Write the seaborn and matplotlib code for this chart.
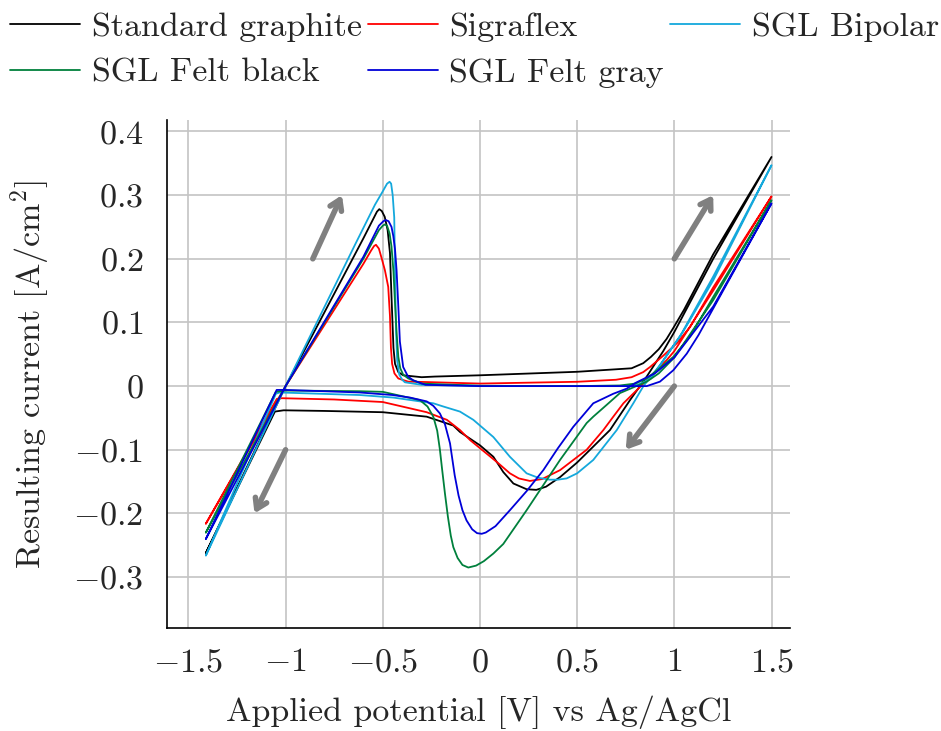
import matplotlib
matplotlib.use("Agg")
import matplotlib.pyplot as plt
import seaborn as sns
import pandas as pd

# ---------------- data (potential V vs Ag/AgCl, current A/cm^2) ----------------
std_v = [-1.41, -1.0, -0.75, -0.6, -0.55, -0.53, -0.518, -0.505, -0.49, -0.475, -0.463, -0.455, -0.445,
         -0.437, -0.42, -0.395, -0.3, -0.232, 0.0, 0.5, 0.78, 0.84, 0.88, 0.92, 0.96, 1.0, 1.05, 1.2, 1.5,
         1.2, 1.0, 0.943, 0.858, 0.772, 0.669, 0.583, 0.5, 0.412, 0.34, 0.29, 0.24, 0.172, 0.12,
         0.069, 0.0, -0.103, -0.137, -0.274, -0.5, -0.8, -1.01, -1.055, -1.41]
std_i = [-0.262, 0.0, 0.145, 0.232, 0.262, 0.274, 0.278, 0.275, 0.266, 0.245, 0.209, 0.14, 0.060,
         0.035, 0.022, 0.017, 0.014, 0.015, 0.017, 0.0225, 0.028, 0.036, 0.046, 0.058, 0.074, 0.094, 0.12,
         0.207, 0.360,
         0.200, 0.085, 0.055, 0.015, -0.022, -0.069, -0.095, -0.120, -0.143, -0.158, -0.163, -0.162,
         -0.153, -0.135, -0.111, -0.093, -0.072, -0.062, -0.048, -0.041, -0.039, -0.038, -0.040, -0.262]

sig_v = [-1.41, -1.0, -0.75, -0.6, -0.56, -0.545, -0.535, -0.52, -0.505, -0.489, -0.472, -0.463, -0.458,
         -0.452, -0.44, -0.42, -0.369, -0.29, 0.0, 0.5, 0.70, 0.78, 0.84, 0.875, 0.94, 1.012, 1.081, 1.2, 1.5,
         1.2, 1.0, 0.961, 0.858, 0.738, 0.686, 0.635, 0.549, 0.412, 0.32, 0.257, 0.2, 0.154, 0.09,
         0.034, -0.05, -0.103, -0.17, -0.274, -0.5, -0.75, -1.02, -1.045, -1.41]
sig_i = [-0.216, 0.0, 0.12, 0.192, 0.213, 0.220, 0.222, 0.216, 0.200, 0.182, 0.156, 0.110, 0.060,
         0.035, 0.020, 0.012, 0.007, 0.0065, 0.004, 0.0068, 0.010, 0.014, 0.022, 0.030, 0.047, 0.067, 0.093,
         0.155, 0.298,
         0.150, 0.055, 0.041, 0.009, -0.027, -0.048, -0.069, -0.100, -0.132, -0.146, -0.149, -0.145,
         -0.137, -0.120, -0.106, -0.085, -0.069, -0.053, -0.041, -0.025, -0.021, -0.019, -0.020, -0.216]

bip_v = [-1.41, -1.0, -0.643, -0.54, -0.50, -0.478, -0.465, -0.457, -0.449, -0.441, -0.437, -0.432,
         -0.426, -0.415, -0.400, -0.386, -0.30, 0.0, 0.5, 0.75, 0.82, 0.88, 0.943, 1.029, 1.2, 1.5,
         1.2, 1.046, 0.926, 0.841, 0.789, 0.704, 0.583, 0.5, 0.446, 0.40, 0.36, 0.3, 0.24, 0.154, 0.069,
         -0.034, -0.103, -0.189, -0.24, -0.446, -0.618, -1.03, -1.05, -1.41]
bip_i = [-0.266, 0.0, 0.222, 0.285, 0.306, 0.318, 0.321, 0.318, 0.300, 0.265, 0.182, 0.090,
         0.040, 0.018, 0.010, 0.006, 0.002, 0.0005, 0.0, 0.0, 0.003, 0.012, 0.040, 0.078, 0.172, 0.347,
         0.166, 0.086, 0.033, 0.0, -0.027, -0.069, -0.116, -0.137, -0.145, -0.147, -0.147, -0.144, -0.137,
         -0.111, -0.080, -0.053, -0.040, -0.032, -0.027, -0.018, -0.014, -0.010, -0.012, -0.266]

fblk_v = [-1.41, -1.0, -0.6, -0.52, -0.5, -0.489, -0.478, -0.465, -0.455, -0.445, -0.437, -0.428, -0.42,
          -0.41, -0.395, -0.369, -0.3, 0.0, 0.5, 0.72, 0.80, 0.858, 0.92, 0.995, 1.081, 1.2, 1.5,
          1.2, 1.0, 0.92, 0.858, 0.72, 0.65, 0.583, 0.549, 0.412, 0.24, 0.12, 0.069, 0.02, -0.02, -0.06,
          -0.09, -0.115, -0.137, -0.15, -0.165, -0.18, -0.195, -0.206, -0.22, -0.24, -0.27, -0.309, -0.5,
          -0.618, -1.0, -1.05, -1.41]
fblk_i = [-0.230, 0.0, 0.200, 0.245, 0.252, 0.254, 0.252, 0.240, 0.219, 0.180, 0.130, 0.080, 0.046,
          0.028, 0.018, 0.012, 0.004, 0.0005, 0.0, 0.001, 0.004, 0.012, 0.027, 0.046, 0.078, 0.140, 0.292,
          0.135, 0.045, 0.020, 0.007, -0.011, -0.030, -0.048, -0.058, -0.116, -0.195, -0.248, -0.263,
          -0.275, -0.282, -0.285, -0.281, -0.270, -0.253, -0.235, -0.205, -0.169, -0.130, -0.100, -0.070,
          -0.048, -0.032, -0.022, -0.009, -0.008, -0.007, -0.009, -0.230]

fgry_v = [-1.41, -1.0, -0.6, -0.52, -0.497, -0.485, -0.47, -0.455, -0.446, -0.437, -0.429, -0.42,
          -0.412, -0.395, -0.37, -0.343, -0.28, 0.0, 0.5, 0.858, 0.926, 0.995, 1.064, 1.124, 1.3, 1.5,
          1.2, 1.0, 0.9, 0.80, 0.755, 0.686, 0.583, 0.48, 0.4, 0.326, 0.24, 0.154, 0.08, 0.03, 0.009,
          -0.015, -0.04, -0.069, -0.09, -0.11, -0.13, -0.154, -0.18, -0.206, -0.24, -0.274, -0.36, -0.45,
          -0.618, -1.0, -1.046, -1.41]
fgry_i = [-0.240, 0.0, 0.203, 0.252, 0.259, 0.261, 0.259, 0.250, 0.236, 0.215, 0.182, 0.125,
          0.070, 0.030, 0.015, 0.009, 0.002, 0.0, 0.0, 0.0, 0.007, 0.025, 0.051, 0.080, 0.177, 0.287,
          0.125, 0.045, 0.020, 0.005, -0.004, -0.012, -0.027, -0.064, -0.098, -0.132, -0.165, -0.195,
          -0.220, -0.230, -0.232, -0.231, -0.225, -0.211, -0.195, -0.172, -0.140, -0.090, -0.060,
          -0.043, -0.031, -0.024, -0.018, -0.014, -0.010, -0.006, -0.006, -0.240]

labels = ["Standard graphite", "Sigraflex", "SGL Bipolar", "SGL Felt black", "SGL Felt gray"]
colors = ["#000000", "#ff0000", "#14a8dc", "#00803c", "#0000d8"]

x_ticks = [-1.5, -1, -0.5, 0, 0.5, 1, 1.5]
x_ticklabels = ["-1.5", "-1", "-0.5", "0", "0.5", "1", "1.5"]
y_ticks = [0.4, 0.3, 0.2, 0.1, 0, -0.1, -0.2, -0.3]
y_ticklabels = ["0.4", "0.3", "0.2", "0.1", "0", "-0.1", "-0.2", "-0.3"]

# scan-direction arrows (start, end) in data units
arrows = [((-0.86, 0.20), (-0.71, 0.30)),
          ((1.00, 0.20), (1.20, 0.30)),
          ((1.00, 0.00), (0.75, -0.10)),
          ((-1.00, -0.10), (-1.16, -0.20))]

# ---------------- styling ----------------
sns.set_style("white")
plt.rcParams["font.family"] = ["cmr10", "DejaVu Serif"]
plt.rcParams["mathtext.fontset"] = "cm"
plt.rcParams["axes.unicode_minus"] = True

FS = 24.5
fig = plt.figure(figsize=(9.41, 7.31), dpi=100)
ax = fig.add_axes([0.1775, 0.1409, 0.662, 0.6949])

series = [(std_v, std_i), (sig_v, sig_i), (bip_v, bip_i), (fblk_v, fblk_i), (fgry_v, fgry_i)]
for (v, i), lab, col in zip(series, labels, colors):
    df = pd.DataFrame({"v": v, "i": i})
    sns.lineplot(data=df, x="v", y="i", sort=False, estimator=None, color=col, lw=1.3,
                 ax=ax, label=lab)
handles, labs = ax.get_legend_handles_labels()
ax.get_legend().remove()

for (x0, y0), (x1, y1) in arrows:
    ax.annotate("", xy=(x1, y1), xytext=(x0, y0),
                arrowprops=dict(arrowstyle="->,head_length=0.7,head_width=0.45",
                                color="#808080", lw=4.0, shrinkA=0, shrinkB=0))

ax.set_xlim(-1.61, 1.595)
ax.set_ylim(-0.38, 0.418)
ax.set_xticks(x_ticks)
ax.set_xticklabels(["$" + s + "$" for s in x_ticklabels])
ax.set_yticks(y_ticks)
ax.set_yticklabels(["$" + s + "$" for s in y_ticklabels])
ax.grid(True, color="#c4c4c4", lw=1.2)
for s in ["top", "right"]:
    ax.spines[s].set_visible(False)
for s in ["left", "bottom"]:
    ax.spines[s].set_color("black")
    ax.spines[s].set_linewidth(1.2)
ax.tick_params(axis="x", direction="inout", length=9, width=1, color="#999999",
               labelsize=FS, pad=10)
ax.tick_params(axis="y", direction="in", length=6, width=1, color="#999999",
               labelsize=FS, pad=17)

ax.set_xlabel("Applied potential [V] vs Ag/AgCl", fontsize=FS, labelpad=13)
ax.set_ylabel("Resulting current [A/cm$^2$]", fontsize=FS, labelpad=15)

order = [0, 3, 1, 4, 2]
fig.legend([handles[k] for k in order], [labs[k] for k in order], loc="upper left",
           bbox_to_anchor=(0.0106, 0.984), ncol=3, frameon=False, fontsize=FS,
           handlelength=2.05, handletextpad=0.35, columnspacing=0.18, labelspacing=0.48,
           borderaxespad=0.0, borderpad=0.0)

fig.savefig("out.png", dpi=100)
